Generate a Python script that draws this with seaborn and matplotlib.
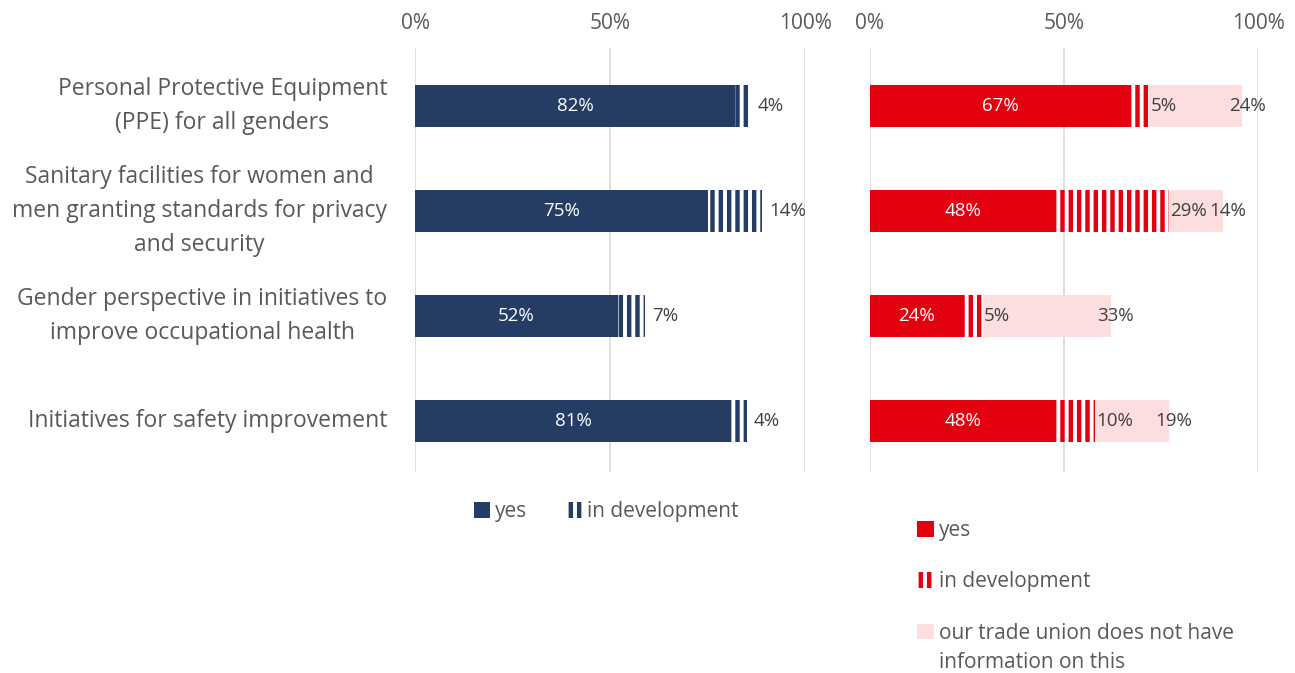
import matplotlib
matplotlib.use("Agg")
import matplotlib.pyplot as plt
from matplotlib.patches import Patch
import seaborn as sns
import pandas as pd

sns.set_theme(style="white")
plt.rcParams["font.family"] = ["Open Sans", "DejaVu Sans"]
plt.rcParams["hatch.linewidth"] = 3.2

categories = [
    "Personal Protective Equipment\n(PPE) for all genders",
    "Sanitary facilities for women and\nmen granting standards for privacy\nand security",
    "Gender perspective in initiatives to\nimprove occupational health",
    "Initiatives for safety improvement",
]
left_yes = [82, 75, 52, 81]
left_dev = [4, 14, 7, 4]
right_yes = [67, 48, 24, 48]
right_dev = [5, 29, 5, 10]
right_noinfo = [24, 14, 33, 19]
tick_labels = ["0%", "50%", "100%"]
noinfo_label = ["our trade union does not have", "information on this"]

NAVY = "#253D64"
RED = "#E3000F"
PINK = "#FCDEDE"
GREY = "#595959"
DARK = "#404040"
GRID = "#D9D9D9"

W, H = 1295, 673
fig = plt.figure(figsize=(W / 100, H / 100), dpi=100)


def px_axes(x0, x1, y0, y1):
    return fig.add_axes([x0 / W, 1 - y1 / H, (x1 - x0) / W, (y1 - y0) / H])


ax_l = px_axes(415, 805, 48, 472)
ax_r = px_axes(870, 1258, 48, 472)

df_l = pd.DataFrame({"cat": categories, "yes": left_yes, "dev": left_dev})
df_l["cum_dev"] = df_l["yes"] + df_l["dev"]
df_r = pd.DataFrame({"cat": categories, "yes": right_yes, "dev": right_dev,
                     "noinfo": right_noinfo})
df_r["cum_dev"] = df_r["yes"] + df_r["dev"]
df_r["cum_all"] = df_r["cum_dev"] + df_r["noinfo"]

BAR_W = 0.4

# Left panel: stacked by overdrawing cumulative totals
sns.barplot(data=df_l, y="cat", x="cum_dev", orient="y", ax=ax_l, color="white",
            edgecolor=NAVY, hatch="||", linewidth=0, width=BAR_W, saturation=1)
sns.barplot(data=df_l, y="cat", x="yes", orient="y", ax=ax_l, color=NAVY,
            linewidth=0, width=BAR_W, saturation=1)

# Right panel
sns.barplot(data=df_r, y="cat", x="cum_all", orient="y", ax=ax_r, color=PINK,
            linewidth=0, width=BAR_W, saturation=1)
sns.barplot(data=df_r, y="cat", x="cum_dev", orient="y", ax=ax_r, color="white",
            edgecolor=RED, hatch="||", linewidth=0, width=BAR_W, saturation=1)
sns.barplot(data=df_r, y="cat", x="yes", orient="y", ax=ax_r, color=RED,
            linewidth=0, width=BAR_W, saturation=1)

for ax in (ax_l, ax_r):
    ax.set_xlim(0, 100)
    ax.set_ylim(3.486, -0.552)
    ax.set_xlabel("")
    ax.set_ylabel("")
    ax.xaxis.tick_top()
    ax.set_xticks([0, 50, 100])
    ax.set_xticklabels(tick_labels, fontsize=15, color=GREY)
    ax.tick_params(axis="x", length=0, pad=10)
    ax.grid(axis="x", color=GRID, linewidth=1.2)
    ax.set_axisbelow(True)
    for s in ax.spines.values():
        s.set_visible(False)
    ax.set_facecolor("none")

ax_l.tick_params(axis="y", length=0, pad=20)
ax_l.set_yticks(range(len(categories)))
ax_l.set_yticklabels(categories, fontsize=16.5, color=GREY, linespacing=1.55)
for lbl in ax_l.get_yticklabels():
    lbl.set_horizontalalignment("right")
    lbl.set_verticalalignment("center")
    lbl.set_multialignment("center")
ax_r.set_yticks([])

LBL = 13.5
for i in range(len(categories)):
    ax_l.text(left_yes[i] / 2, i, f"{left_yes[i]}%", color="white",
              ha="center", va="center", fontsize=LBL)
    ax_l.text(left_yes[i] + left_dev[i] + 1.8, i, f"{left_dev[i]}%", color=DARK,
              ha="left", va="center", fontsize=LBL)
    ax_r.text(right_yes[i] / 2, i, f"{right_yes[i]}%", color="white",
              ha="center", va="center", fontsize=LBL)
    ax_r.text(right_yes[i] + right_dev[i] + 0.3, i, f"{right_dev[i]}%", color=DARK,
              ha="left", va="center", fontsize=LBL)
    total = right_yes[i] + right_dev[i] + right_noinfo[i]
    ax_r.text(total + 1.3, i, f"{right_noinfo[i]}%", color=DARK,
              ha="center", va="center", fontsize=LBL)

# Legends
LEG = 15
h_l = [Patch(facecolor=NAVY, edgecolor=NAVY, linewidth=0, label="yes"),
       Patch(facecolor="white", edgecolor=NAVY, hatch="||", linewidth=0,
             label="in development")]
fig.legend(handles=h_l, loc="center", bbox_to_anchor=(606 / W, 1 - 512 / H),
           ncol=2, frameon=False, fontsize=LEG, labelcolor=GREY,
           handlelength=0.8, handleheight=0.8, handletextpad=0.25, columnspacing=1.8)

h_r = [Patch(facecolor=RED, edgecolor=RED, linewidth=0, label="yes"),
       Patch(facecolor="white", edgecolor=RED, hatch="||", linewidth=0,
             label="in development"),
       Patch(facecolor=PINK, edgecolor=PINK, linewidth=0, label=noinfo_label[0])]
leg_r = fig.legend(handles=h_r, loc="center left",
                   bbox_to_anchor=(917 / W, 1 - 582 / H),
                   ncol=1, frameon=False, fontsize=LEG, labelcolor=GREY,
                   handlelength=0.8, handleheight=0.8, handletextpad=0.25,
                   labelspacing=1.45, borderaxespad=0, borderpad=0)

# Second line of the last legend entry, aligned under its first line
fig.canvas.draw()
bb = leg_r.get_texts()[2].get_window_extent()
fig.text(bb.x0 / W, (bb.y0 - 29) / H, noinfo_label[1], fontsize=LEG, color=GREY,
         ha="left", va="bottom")

fig.savefig("out.png", dpi=100, facecolor="white")
